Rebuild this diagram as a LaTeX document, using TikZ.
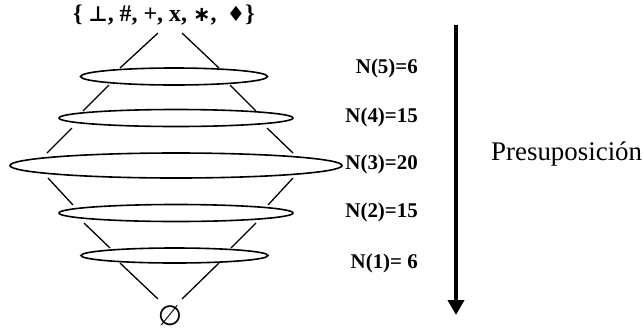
\documentclass[tikz,border=0pt]{standalone}
\usepackage{fontspec}
\setmainfont{Liberation Serif}
\newfontfamily\symf{DejaVu Sans}
\usetikzlibrary{shapes.geometric,arrows.meta}
\begin{document}
\begin{tikzpicture}[x=1bp,y=-1bp,
  ring/.style={draw,ellipse,line width=1.6bp,inner sep=0pt},
  edge/.style={line width=1.3bp},
  lbl/.style={font=\fontsize{21}{23}\selectfont\bfseries,anchor=east,inner sep=0pt}]
\path[use as bounding box] (0,0) rectangle (644,332);
% ellipses
\node[ring,minimum width=187bp,minimum height=17bp] (e5) at (174,76.5) {};
\node[ring,minimum width=234bp,minimum height=17bp] (e4) at (176,118) {};
\node[ring,minimum width=332bp,minimum height=25bp] (e3) at (176,165.5) {};
\node[ring,minimum width=234bp,minimum height=17bp] (e2) at (176,213) {};
\node[ring,minimum width=187bp,minimum height=15bp] (e1) at (174.5,255.5) {};
% top and bottom
\node[inner sep=0pt] (top) at (164,15) {\fontsize{24}{26}\selectfont\bfseries \{ {\symf\fontsize{21}{24}\selectfont ⊥}, \#, +, x, {\symf\fontsize{21}{24}\selectfont ∗}, \,{\symf\fontsize{21}{24}\selectfont ♦}\}};
\node[inner sep=0pt] (bot) at (170,316) {\symf\fontsize{28}{30}\selectfont ∅};
% line end points
\coordinate (t1l) at (158,33);  \coordinate (t1r) at (182,33);
\coordinate (b5l) at (120,68);  \coordinate (b5r) at (219,68);
\coordinate (u5l) at (109,85);  \coordinate (u5r) at (230,85);
\coordinate (b4l) at (83,111);  \coordinate (b4r) at (256,111);
\coordinate (u4l) at (72,128);  \coordinate (u4r) at (267,128);
\coordinate (b3l) at (47,153);  \coordinate (b3r) at (293,153);
\coordinate (u3l) at (48,178);  \coordinate (u3r) at (293,178);
\coordinate (b2l) at (73,205);  \coordinate (b2r) at (268,205);
\coordinate (u2l) at (84,223);  \coordinate (u2r) at (256,223);
\coordinate (b1l) at (110,248); \coordinate (b1r) at (231,248);
\coordinate (u1l) at (120,263); \coordinate (u1r) at (219,263);
\coordinate (ezl) at (158,299); \coordinate (ezr) at (182,299);
\draw[edge] (t1l) -- (b5l) (t1r) -- (b5r);
\draw[edge] (u5l) -- (b4l) (u5r) -- (b4r);
\draw[edge] (u4l) -- (b3l) (u4r) -- (b3r);
\draw[edge] (u3l) -- (b2l) (u3r) -- (b2r);
\draw[edge] (u2l) -- (b1l) (u2r) -- (b1r);
\draw[edge] (u1l) -- (ezl) (u1r) -- (ezr);
% labels
\node[lbl] (n5) at (418,68) {N(5)=6};
\node[lbl] (n4) at (418,117) {N(4)=15};
\node[lbl] (n3) at (418,164) {N(3)=20};
\node[lbl] (n2) at (418,212) {N(2)=15};
\node[lbl] (n1) at (418,263) {N(1)= 6};
% arrow
\coordinate (as) at (456,25);
\coordinate (ae) at (456,315);
\draw[line width=4bp,-{Triangle[length=15bp,width=16bp]}] (as) -- (ae);
\node[anchor=west,inner sep=0pt,font=\fontsize{27}{29}\selectfont] (pres) at (491,154) {Presuposición};
\end{tikzpicture}
\end{document}
